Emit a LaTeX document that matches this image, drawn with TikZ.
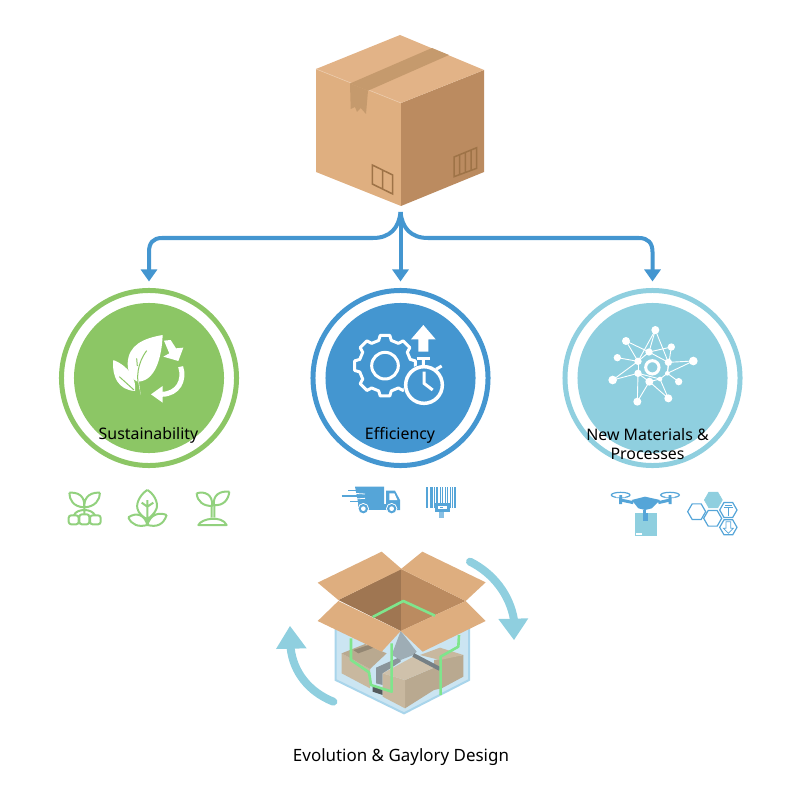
\documentclass[tikz,border=0pt]{standalone}
\usepackage{fontspec}
\setmainfont{Noto Sans}
\usetikzlibrary{arrows.meta}
\newcommand{\px}{0.25mm}
\definecolor{leafGreen}{HTML}{8CC665}
\definecolor{plantGreen}{HTML}{92D17E}
\definecolor{flowBlue}{HTML}{4496D0}
\definecolor{toolBlue}{HTML}{55A5D8}
\definecolor{paleTeal}{HTML}{8FCFDF}
\definecolor{boxLeft}{HTML}{DFAF80}
\definecolor{boxRight}{HTML}{BB8B60}
\definecolor{boxTop}{HTML}{E2B387}
\definecolor{tapeBrown}{HTML}{C59A6D}
\definecolor{markBrown}{HTML}{9E7347}
\definecolor{flapBrown}{HTML}{DEAE7F}
\definecolor{glassBlue}{HTML}{CBE5F2}
\definecolor{glassEdge}{HTML}{A9D5EB}
\definecolor{wireGreen}{HTML}{7FE58C}
\definecolor{cargoLight}{HTML}{C8B89F}
\definecolor{cargoDark}{HTML}{B9A990}
\definecolor{shadowGrey}{HTML}{8A959B}
\newcommand{\ringDisc}[4] %name,x,y,color
{\node (#1Ring) at (#2,#3) [circle,draw=#4,line width=5*\px,minimum size=175*\px,inner sep=0pt,outer sep=0pt]{};
\node (#1Disc) at (#2,#3) [circle,fill=#4,minimum size=150*\px,inner sep=0pt,outer sep=0pt]{};}
\newcommand{\hexCell}[4] %x,y,r,style
{\draw[#4] (#1+#3,#2)--++(-0.5*#3,0.866*#3)--++(-#3,0)--++(-0.5*#3,-0.866*#3)--++(0.5*#3,-0.866*#3)--++(#3,0)--cycle;}
\tikzset{
	flowArrow/.style={draw=flowBlue,line width=4*\px,-{Triangle[length=12*\px,width=16*\px]},shorten >=9*\px},
	caption/.style={font=\fontsize{11.3pt}{13.5pt}\selectfont,text=black,align=center,inner sep=0pt},
	plantLine/.style={draw=plantGreen,line width=2*\px,line join=round},
	whiteLine/.style={draw=white,line width=3*\px,line join=round},
}
\begin{document}
\begin{tikzpicture}[x=0.025cm,y=-0.025cm]
	\useasboundingbox (0,0) rectangle (800,800);
	% closed box on top
	\fill[boxLeft] (316,69)--(401,103)--(401,206)--(316,172)--cycle;
	\fill[boxRight] (401,103)--(484,70)--(484,172)--(401,206)--cycle;
	\fill[boxTop] (400,35)--(484,70)--(401,103)--(316,69)--cycle;
	\draw[boxTop!70!white,line width=0.6*\px] (316,69)--(401,103);
	\fill[tapeBrown] (350,83.5)--(432,48)--(449,55)--(368,90.7)--cycle;
	\fill[tapeBrown] (350,83.5)--(368,90.7)--(366,114)--(360.7,108)--(357,112)--(355,107)--(350.7,109)--cycle;
	\draw[markBrown,line width=1.5*\px] (372.3,165)--(392.7,175)--(392.7,194)--(372.3,184)--cycle
	(382.5,170)--(382.5,189);
	\draw[markBrown,line width=1.5*\px] (454,157)--(476.7,147.7)--(476.7,168.3)--(454,176.7)--cycle
	(459.5,155)--(459.5,174.5)
	(465.3,152.5)--(465.3,172.5)
	(471,150)--(471,170.5);
	% connectors from the box to the three rings
	\coordinate (forkTop) at (400.5,212);
	\ringDisc{sustain}{149}{378}{leafGreen}
	\ringDisc{efficiency}{400.5}{378}{flowBlue}
	\ringDisc{materials}{652.5}{378}{paleTeal}
	\draw[flowArrow] (forkTop) .. controls (399,228) and (390,238) .. (373,238)--(162,238) .. controls (153,238) and (149,243) .. (149,252)--(sustainRing.north);
	\draw[flowArrow] (forkTop)--(efficiencyRing.north);
	\draw[flowArrow] (forkTop) .. controls (402,228) and (411,238) .. (428,238)--(639,238) .. controls (648,238) and (652.5,243) .. (652.5,252)--(materialsRing.north);
	% leaf and recycling arrows
	\begin{scope}[shift={(50,280)},scale=1/3]
		\fill[white] (338,165) .. controls (280,175) and (235,195) .. (233,250) .. controls (232,280) and (250,300) .. (262,305) .. controls (315,305) and (335,235) .. (338,165)--cycle;
		\fill[white] (262,300)--(272,345)--(266,300)--cycle;
		\draw[leafGreen,line width=1*\px] (268,335) .. controls (258,290) and (262,250) .. (290,212) (262,258)--(260,235);
		\fill[white] (190,240) .. controls (185,290) and (205,330) .. (255,333) .. controls (260,300) and (240,260) .. (190,240)--cycle;
		\draw[leafGreen,line width=1*\px] (208,290)--(252,330);
		\fill[white] (342,182)--(362,180)--(378,205)--(400,203)--(385,243)--(340,230)--(358,220)--cycle;
		\draw[white,line width=5*\px] (392,260) .. controls (405,300) and (385,342) .. (335,343);
		\fill[white] (303,343)--(338,318)--(338,368)--cycle;
	\end{scope}
	% gear and stopwatch
	\begin{scope}[shift={(300,280)},scale=1/3]
		\begin{scope}[shift={(255,257)}]
			\draw[whiteLine] (-14:78) \foreach \a in {0,45,...,315} {--(\a-14:78)--(\a-9:92)--(\a+9:92)--(\a+14:78)}--cycle;
			\draw[whiteLine] (0,0) circle (40);
		\end{scope}
		\fill[flowBlue] (372,315) circle (62);
		\draw[white,line width=3.5*\px] (372,315) circle (55);
		\draw[white,line width=3*\px] (372,275)--(372,310)--(398,330)
		(370,258)--(370,235)
		(408,268)--(425,258);
		\draw[white,line width=3*\px] (350,236)--(390,236);
		\fill[white] (370,135)--(407,178)--(385,178)--(385,215)--(355,215)--(355,178)--(333,178)--cycle;
	\end{scope}
	% molecule network
	\begin{scope}[shift={(550,280)},scale=1/3]
		\foreach \x/\y/\r [count=\i] in {316/150/12,228/183/12,364/201/11,202/233/11,297/216/11,264/244/11,355/247/11,430/243/13,264/280/11,352/280/7,188/300/13,298/305/12,330/297/7,386/305/11,262/365/12,355/355/12}
		{\coordinate (net\i) at (\x,\y);
		\fill[white] (\x,\y) circle (\r);}
		\foreach \a/\b in {1/5,1/7,2/5,2/6,3/5,3/10,4/6,5/6,5/7,6/11,6/9,8/10,8/7,9/11,9/13,9/15,9/12,12/15,12/16,12/13,13/10,14/10,13/16,7/10,1/6}
		{\draw[white,line width=0.9*\px] (net\a)--(net\b);}
		\draw[white,line width=3*\px] (307,262) circle (20);
	\end{scope}
	% captions
	\node (sustainText) at (148.5,435) [caption]{Sustainability};
	\node (efficiencyText) at (400,435) [caption]{Efficiency};
	\node (materialsText) at (647.5,444) [caption]{New Materials \&\\Processes};
	\node (evolutionText) at (401,757) [caption,font=\fontsize{12.05pt}{13.5pt}\selectfont]{Evolution \& Gaylory Design};
	% small plant icons
	\begin{scope}[shift={(50,280)},scale=1/3]
		\draw[plantLine] (58,638) .. controls (100,635) and (105,665) .. (102,682) .. controls (70,680) and (58,660) .. (58,638)
		(150,638) .. controls (110,635) and (100,665) .. (104,682) .. controls (135,680) and (150,660) .. (150,638)
		(103,682)--(103,703)
		(103,690) .. controls (90,690) and (75,695) .. (72,706)
		(103,690) .. controls (116,690) and (130,695) .. (135,706);
		\draw[plantLine,rounded corners=1.8pt] (56,706) rectangle (86,733) (88,703) rectangle (118,733) (120,706) rectangle (152,733);
		\draw[plantLine] (292,630) .. controls (310,640) and (325,665) .. (320,685) .. controls (315,700) and (300,712) .. (292,718) .. controls (280,712) and (265,700) .. (262,685) .. controls (258,665) and (275,640) .. (292,630)
		(292,660)--(292,735)
		(292,680)--(275,668)
		(292,680)--(310,668)
		(235,712) .. controls (260,695) and (285,705) .. (292,735) .. controls (265,742) and (245,735) .. (235,712)
		(350,705) .. controls (325,695) and (300,705) .. (292,735) .. controls (320,742) and (340,735) .. (350,705);
		\draw[plantLine] (440,640) .. controls (465,632) and (490,645) .. (486,678) .. controls (460,678) and (442,665) .. (440,640)
		(538,635) .. controls (510,632) and (488,645) .. (492,675) .. controls (520,678) and (535,660) .. (538,635)
		(485,678)--(485,712)
		(493,675)--(493,712)
		(445,735) .. controls (455,715) and (515,705) .. (530,735)--cycle;
	\end{scope}
	% truck and barcode
	\begin{scope}[shift={(300,280)},scale=1/3]
		\fill[toolBlue] (165,620)--(252,620)--(252,672)--(175,672)--cycle;
		\fill[toolBlue] (258,632)--(285,632)--(300,660)--(300,690)--(258,690)--cycle;
		\fill[toolBlue] (175,672)--(258,672)--(258,690)--(175,690)--cycle;
		\fill[white] (268,640)--(283,640)--(292,660)--(268,660)--cycle;
		\draw[toolBlue,line width=1.2*\px] (125,648)--(195,648) (145,632)--(190,632) (150,665)--(190,665);
		\draw[white,line width=0.8*\px] (160,640)--(195,642) (165,657)--(195,655);
		\foreach \x in {190,275}
		{\fill[white] (\x,686) circle (17);
		\fill[toolBlue] (\x,686) circle (14);
		\fill[white] (\x,686) circle (7);}
		\foreach \x/\w in {381/4,390/2,396/4,404/2,411/5,420/2,427/5,436/2,443/4,451/2,458/2,465/4}
		{\draw[toolBlue,line width=\w*0.33*\px] (\x,622)--(\x,685);}
		\fill[toolBlue] (405,670) rectangle (450,695);
		\fill[white] (415,677) rectangle (440,687);
		\fill[toolBlue] (421,680) rectangle (430,684);
		\fill[toolBlue!70!white] (418,695) rectangle (432,715);
	\end{scope}
	% drone and hexagons
	\begin{scope}[shift={(550,280)},scale=1/3]
		\fill[toolBlue] (245,660)--(285,650)--(330,660)--(305,685)--(285,690)--(265,685)--cycle;
		\draw[toolBlue,line width=3*\px] (212,660)--(250,668) (360,660)--(325,668) (212,648)--(212,672) (360,648)--(360,672);
		\draw[toolBlue,line width=1.2*\px] (212,645) ellipse (28 and 8) (360,645) ellipse (28 and 8);
		\fill[white] (198,644) rectangle (226,652) (346,644) rectangle (374,652);
		\fill[toolBlue] (208,645) rectangle (216,655) (356,645) rectangle (364,655);
		\fill[toolBlue] (279,690) rectangle (288,698);
		\fill[paleTeal] (255,698) rectangle (320,768);
		\fill[toolBlue] (278,698) rectangle (293,722);
		\fill[white] (258,760) rectangle (275,765);
		\hexCell{490}{660}{27}{fill=paleTeal,draw=paleTeal}
		\hexCell{440}{695}{27}{draw=toolBlue,line width=1.2*\px}
		\hexCell{488}{715}{27}{draw=toolBlue,line width=1.2*\px}
		\hexCell{535}{690}{26}{draw=toolBlue,line width=1.2*\px}
		\hexCell{535}{742}{26}{draw=toolBlue,line width=1.2*\px}
		\draw[toolBlue,line width=0.7*\px] (522,682)--(548,682) (535,682)--(535,708) (525,675)--(545,675);
		\draw[toolBlue,line width=0.7*\px] (528,725)--(528,745)--(520,745)--(535,760)--(550,745)--(542,745)--(542,725)--cycle;
	\end{scope}
	% open box with the cargo inside
	\begin{scope}[shift={(270,545)},scale=1/3]
		\fill[glassBlue] (197,250)--(597,250)--(597,405)--(402,505)--(197,405)--cycle;
		\draw[glassEdge,line width=2*\px] (197,250)--(197,405)--(402,505)--(597,405)--(597,250);
		% cargo
		\fill[cargoLight] (215,325)--(300,372)--(300,430)--(215,385)--cycle;
		\fill[cargoDark] (215,325)--(285,297)--(350,325)--(300,372)--cycle;
		\fill[cargoDark!80!black] (250,315)--(312,295)--(325,303)--(265,325)--cycle;
		\fill[shadowGrey] (318,368)--(392,335)--(392,350)--(338,385)--(338,420)--(318,415)--cycle;
		\fill[shadowGrey!60!black] (308,420)--(338,430)--(338,450)--(308,440)--cycle;
		\fill[shadowGrey!70!glassBlue] (392,258)--(440,320)--(430,330)--(392,345)--(365,330)--cycle;
		\fill[cargoDark] (492,345)--(580,330)--(580,395)--(515,430)--(492,435)--cycle;
		\fill[cargoLight] (450,330)--(510,308)--(580,330)--(510,345)--cycle;
		\fill[cargoDark] (405,405)--(492,368)--(492,435)--(405,490)--cycle;
		\fill[cargoLight] (338,385)--(405,405)--(405,490)--(338,455)--cycle;
		\fill[cargoLight!88!white] (338,385)--(430,335)--(492,368)--(405,405)--cycle;
		\draw[shadowGrey!85!black,line width=4*\px] (430,330)--(510,372);
		% green wire
		\draw[wireGreen,line width=2.6*\px,line join=round] (243,280)--(243,345)--(297,382)--(303,420)--(365,440)--(365,295)
		(567,270)--(565,305)--(512,335)--(512,450);
		% inside of the box and flaps
		\fill[boxRight!85!black] (205,165)--(393,72)--(393,258)--cycle;
		\fill[boxRight] (393,72)--(587,168)--(393,258)--cycle;
		\fill[flapBrown] (143,113)--(335,20)--(395,72)--(205,165)--cycle;
		\fill[flapBrown] (393,72)--(457,20)--(647,112)--(587,168)--cycle;
		\fill[flapBrown] (143,228)--(205,168)--(392,258)--(335,320)--cycle;
		\fill[flapBrown] (392,258)--(587,168)--(647,228)--(458,320)--cycle;
		\draw[wireGreen,line width=2.6*\px,line join=round] (308,216)--(400,168)--(495,212);
		% turning arrows
		\draw[paleTeal,line width=8*\px,line cap=round] (600,50) .. controls (670,85) and (720,150) .. (732,225);
		\fill[paleTeal] (685,222)--(775,220)--(732,285)--cycle;
		\draw[paleTeal,line width=8*\px,line cap=round] (190,470) .. controls (115,440) and (70,380) .. (62,310);
		\fill[paleTeal] (18,312)--(110,310)--(60,243)--cycle;
	\end{scope}
\end{tikzpicture}
\end{document}
